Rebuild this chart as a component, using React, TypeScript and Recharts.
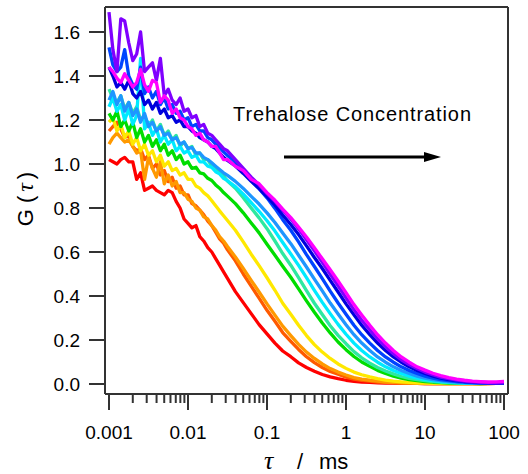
import React from 'react';
import { LineChart, Line, XAxis, YAxis, ReferenceLine } from 'recharts';

// lag time (ms)
const TAU = [
  0.001, 0.00112, 0.00126, 0.00141, 0.00158, 0.00178, 0.002, 0.00224, 0.00251, 0.00282,
  0.00316, 0.00355, 0.00398, 0.00447, 0.00501, 0.00562, 0.00631, 0.00708, 0.00794, 0.00891,
  0.01, 0.0112, 0.0126, 0.0141, 0.0158, 0.0178, 0.02, 0.0224, 0.0251, 0.0282,
  0.0316, 0.0398, 0.0501, 0.0631, 0.0794, 0.1, 0.126, 0.158, 0.2, 0.251,
  0.316, 0.398, 0.501, 0.631, 0.794, 1, 1.26, 1.58, 2, 2.51,
  3.16, 3.98, 5.01, 6.31, 7.94, 10, 12.6, 15.8, 20, 25.1,
  31.6, 39.8, 50.1, 63.1, 79.4, 100,
];

// G(tau), lowest trehalose concentration first
const RED = [
  1.02, 1.01, 1.00, 1.02, 1.03, 1.01, 1.01, 0.93, 0.96, 0.88,
  0.89, 0.90, 0.88, 0.87, 0.86, 0.88, 0.87, 0.83, 0.80, 0.75,
  0.73, 0.71, 0.72, 0.67, 0.65, 0.62, 0.60, 0.57, 0.54, 0.51,
  0.48, 0.42, 0.37, 0.32, 0.27, 0.228, 0.186, 0.15, 0.124, 0.096,
  0.075, 0.058, 0.043, 0.032, 0.024, 0.017, 0.012, 0.009, 0.007, 0.005,
  0.004, 0.004, 0.003, 0.003, 0.003, 0.002, 0.003, 0.002, 0.002, 0.003,
  0.002, 0.002, 0.003, 0.002, 0.003, 0.004,
];
const ORANGE_RED = [
  1.15, 1.17, 1.19, 1.16, 1.12, 1.13, 1.08, 1.06, 1.07, 1.02,
  1.04, 0.98, 1.00, 0.95, 0.97, 0.92, 0.94, 0.89, 0.90, 0.86,
  0.86, 0.82, 0.81, 0.79, 0.77, 0.74, 0.72, 0.69, 0.66, 0.64,
  0.61, 0.56, 0.50, 0.445, 0.39, 0.335, 0.285, 0.234, 0.194, 0.157,
  0.124, 0.097, 0.075, 0.057, 0.044, 0.031, 0.022, 0.017, 0.013, 0.009,
  0.007, 0.005, 0.004, 0.003, 0.003, 0.002, 0.002, 0.003, 0.002, 0.002,
  0.003, 0.002, 0.002, 0.003, 0.003, 0.004,
];
const ORANGE = [
  1.09, 1.12, 1.14, 1.12, 1.10, 1.11, 1.08, 1.05, 1.06, 0.93,
  1.03, 0.98, 0.94, 1.01, 0.91, 0.95, 0.90, 0.92, 0.87, 0.87,
  0.84, 0.83, 0.80, 0.79, 0.76, 0.75, 0.72, 0.70, 0.67, 0.65,
  0.625, 0.577, 0.525, 0.471, 0.418, 0.364, 0.313, 0.263, 0.22, 0.18,
  0.145, 0.116, 0.091, 0.07, 0.054, 0.041, 0.029, 0.022, 0.017, 0.013,
  0.009, 0.007, 0.005, 0.004, 0.003, 0.003, 0.002, 0.003, 0.002, 0.002,
  0.003, 0.002, 0.003, 0.002, 0.003, 0.004,
];
const YELLOW = [
  1.19, 1.21, 1.15, 1.18, 1.12, 1.15, 1.09, 1.12, 1.06, 1.09,
  1.04, 1.06, 1.01, 1.04, 0.99, 1.01, 0.97, 0.98, 0.95, 0.96,
  0.93, 0.93, 0.90, 0.89, 0.87, 0.855, 0.833, 0.81, 0.787, 0.765,
  0.743, 0.699, 0.646, 0.59, 0.538, 0.483, 0.426, 0.367, 0.317, 0.267,
  0.22, 0.179, 0.145, 0.116, 0.091, 0.071, 0.054, 0.042, 0.032, 0.024,
  0.018, 0.0135, 0.01, 0.007, 0.005, 0.004, 0.003, 0.003, 0.002, 0.003,
  0.002, 0.003, 0.002, 0.003, 0.003, 0.004,
];
const GREEN = [
  1.23, 1.20, 1.24, 1.17, 1.20, 1.15, 1.19, 1.12, 1.16, 1.10,
  1.13, 1.08, 1.11, 1.06, 1.09, 1.04, 1.06, 1.02, 1.04, 1.00,
  1.01, 0.98, 0.985, 0.96, 0.955, 0.935, 0.925, 0.905, 0.89, 0.87,
  0.854, 0.82, 0.778, 0.732, 0.687, 0.635, 0.585, 0.535, 0.485, 0.432,
  0.378, 0.326, 0.277, 0.232, 0.191, 0.156, 0.125, 0.1, 0.08, 0.062,
  0.048, 0.036, 0.027, 0.02, 0.015, 0.011, 0.008, 0.006, 0.004, 0.003,
  0.003, 0.003, 0.002, 0.003, 0.003, 0.004,
];
const MINT = [
  1.34, 1.30, 1.28, 1.31, 1.25, 1.28, 1.23, 1.26, 1.20, 1.22,
  1.17, 1.20, 1.15, 1.18, 1.13, 1.15, 1.11, 1.13, 1.08, 1.10,
  1.07, 1.08, 1.04, 1.05, 1.02, 1.02, 0.99, 0.985, 0.96, 0.945,
  0.923, 0.89, 0.847, 0.80, 0.755, 0.706, 0.65, 0.593, 0.54, 0.483,
  0.424, 0.367, 0.316, 0.265, 0.221, 0.183, 0.147, 0.119, 0.095, 0.075,
  0.059, 0.046, 0.034, 0.026, 0.02, 0.015, 0.011, 0.008, 0.006, 0.004,
  0.003, 0.003, 0.003, 0.003, 0.003, 0.004,
];
const CYAN = [
  1.26, 1.30, 1.24, 1.27, 1.20, 1.25, 1.18, 1.22, 1.48, 1.16,
  1.19, 1.13, 1.16, 1.10, 1.13, 1.09, 1.11, 1.06, 1.08, 1.05,
  1.06, 1.03, 1.04, 1.01, 1.01, 0.99, 0.985, 0.965, 0.955, 0.935,
  0.924, 0.897, 0.863, 0.824, 0.785, 0.742, 0.695, 0.643, 0.591, 0.539,
  0.483, 0.426, 0.371, 0.32, 0.271, 0.226, 0.186, 0.152, 0.123, 0.099,
  0.078, 0.061, 0.048, 0.036, 0.027, 0.02, 0.015, 0.011, 0.008, 0.006,
  0.004, 0.003, 0.003, 0.003, 0.003, 0.004,
];
const SKY = [
  1.29, 1.33, 1.27, 1.31, 1.24, 1.28, 1.22, 1.25, 1.19, 1.23,
  1.17, 1.19, 1.15, 1.17, 1.13, 1.14, 1.11, 1.12, 1.09, 1.10,
  1.07, 1.075, 1.05, 1.05, 1.03, 1.02, 1.005, 0.99, 0.975, 0.96,
  0.948, 0.921, 0.889, 0.853, 0.818, 0.778, 0.734, 0.686, 0.638, 0.585,
  0.532, 0.477, 0.423, 0.368, 0.318, 0.269, 0.224, 0.186, 0.152, 0.123,
  0.099, 0.078, 0.061, 0.048, 0.036, 0.027, 0.02, 0.015, 0.011, 0.008,
  0.006, 0.004, 0.003, 0.003, 0.003, 0.004,
];
const BLUE = [
  1.53, 1.45, 1.42, 1.44, 1.52, 1.40, 1.36, 1.34, 1.44, 1.32,
  1.35, 1.30, 1.33, 1.27, 1.30, 1.25, 1.27, 1.23, 1.24, 1.20,
  1.21, 1.17, 1.18, 1.15, 1.15, 1.12, 1.11, 1.09, 1.075, 1.055,
  1.039, 1.009, 0.969, 0.926, 0.888, 0.846, 0.798, 0.747, 0.699, 0.646,
  0.588, 0.534, 0.479, 0.422, 0.368, 0.317, 0.267, 0.224, 0.186, 0.152,
  0.123, 0.099, 0.078, 0.061, 0.048, 0.036, 0.027, 0.02, 0.015, 0.011,
  0.008, 0.006, 0.004, 0.004, 0.003, 0.004,
];
const DARK_BLUE = [
  1.44, 1.40, 1.35, 1.37, 1.34, 1.38, 1.32, 1.30, 1.33, 1.27,
  1.29, 1.25, 1.28, 1.23, 1.25, 1.21, 1.22, 1.19, 1.20, 1.17,
  1.17, 1.15, 1.14, 1.12, 1.11, 1.10, 1.08, 1.07, 1.05, 1.03,
  1.016, 0.991, 0.957, 0.921, 0.888, 0.852, 0.813, 0.768, 0.725, 0.679,
  0.628, 0.575, 0.525, 0.471, 0.418, 0.364, 0.314, 0.267, 0.224, 0.186,
  0.152, 0.123, 0.099, 0.078, 0.061, 0.048, 0.036, 0.027, 0.02, 0.015,
  0.011, 0.008, 0.006, 0.005, 0.004, 0.005,
];
const PURPLE = [
  1.69, 1.52, 1.42, 1.66, 1.65, 1.55, 1.47, 1.50, 1.60, 1.42,
  1.44, 1.46, 1.38, 1.48, 1.31, 1.34, 1.29, 1.27, 1.30, 1.24,
  1.25, 1.21, 1.22, 1.17, 1.18, 1.14, 1.13, 1.11, 1.09, 1.07,
  1.06, 1.02, 0.98, 0.94, 0.905, 0.865, 0.83, 0.79, 0.75, 0.705,
  0.655, 0.605, 0.553, 0.499, 0.446, 0.391, 0.337, 0.29, 0.246, 0.205,
  0.169, 0.138, 0.11, 0.088, 0.07, 0.054, 0.042, 0.031, 0.024, 0.018,
  0.013, 0.01, 0.008, 0.006, 0.005, 0.006,
];
const MAGENTA = [
  1.44, 1.42, 1.39, 1.37, 1.41, 1.38, 1.35, 1.37, 1.43, 1.36,
  1.33, 1.38, 1.37, 1.28, 1.31, 1.29, 1.23, 1.25, 1.21, 1.20,
  1.17, 1.16, 1.13, 1.14, 1.11, 1.10, 1.08, 1.08, 1.05, 1.02,
  1.02, 0.99, 0.97, 0.93, 0.91, 0.87, 0.835, 0.795, 0.756, 0.713,
  0.668, 0.619, 0.569, 0.519, 0.468, 0.415, 0.361, 0.314, 0.267, 0.224,
  0.186, 0.152, 0.123, 0.099, 0.078, 0.063, 0.049, 0.038, 0.029, 0.022,
  0.017, 0.013, 0.011, 0.009, 0.01, 0.012,
];

const SERIES = [
  { key: 'red', values: RED, color: '#ff0000' },
  { key: 'orangeRed', values: ORANGE_RED, color: '#ff5a00' },
  { key: 'orange', values: ORANGE, color: '#ff9900' },
  { key: 'yellow', values: YELLOW, color: '#ffe800' },
  { key: 'green', values: GREEN, color: '#00dd00' },
  { key: 'mint', values: MINT, color: '#2ee8a0' },
  { key: 'cyan', values: CYAN, color: '#00eaff' },
  { key: 'sky', values: SKY, color: '#1e96ff' },
  { key: 'blue', values: BLUE, color: '#0044ff' },
  { key: 'darkBlue', values: DARK_BLUE, color: '#0000dd' },
  { key: 'purple', values: PURPLE, color: '#7f00ff' },
  { key: 'magenta', values: MAGENTA, color: '#ff00ff' },
];

const MAJOR_TICKS = [0.001, 0.01, 0.1, 1, 10, 100];
const MINOR_TICKS = [
  0.002, 0.003, 0.004, 0.005, 0.006, 0.007, 0.008, 0.009,
  0.02, 0.03, 0.04, 0.05, 0.06, 0.07, 0.08, 0.09,
  0.2, 0.3, 0.4, 0.5, 0.6, 0.7, 0.8, 0.9,
  2, 3, 4, 5, 6, 7, 8, 9,
  20, 30, 40, 50, 60, 70, 80, 90,
];
const Y_TICKS = [0, 0.2, 0.4, 0.6, 0.8, 1.0, 1.2, 1.4, 1.6];

const X_DOMAIN = [0.00089, 112.3];
const Y_DOMAIN = [-0.0455, 1.7136];

const AXIS_COLOR = '#333';
const FONT = '"Liberation Sans", Arial, sans-serif';
const SERIF = '"Liberation Serif", "DejaVu Serif", serif';

const chartData = TAU.map((tau, i) => {
  const row: Record<string, number> = { tau };
  SERIES.forEach((s) => {
    row[s.key] = s.values[i];
  });
  return row;
});

const xTicks = [...MAJOR_TICKS, ...MINOR_TICKS].sort((a, b) => a - b);

const XTick = ({ x, y, payload }: { x?: number; y?: number; payload?: { value: number } }) => {
  if (x == null || y == null || !payload) return null;
  const major = MAJOR_TICKS.includes(payload.value);
  return (
    <g>
      <line x1={x} x2={x} y1={y} y2={y + (major ? 16 : 9)} stroke={AXIS_COLOR} strokeWidth={2} />
      {major && (
        <text x={x} y={y + 45} textAnchor="middle" fontSize={19} fontFamily={FONT} fill="#000">
          {String(payload.value)}
        </text>
      )}
    </g>
  );
};

export default function App() {
  return (
    <div style={{ position: 'absolute', left: 0, top: 0, width: 528, height: 474, background: '#fff' }}>
      <LineChart
        width={528}
        height={474}
        data={chartData}
        margin={{ top: 7, right: 20, bottom: 0, left: 0 }}
      >
        <XAxis
          dataKey="tau"
          type="number"
          scale="log"
          domain={X_DOMAIN}
          allowDataOverflow
          ticks={xTicks}
          interval={0}
          height={80}
          tickSize={0}
          tickMargin={0}
          tickLine={false}
          tick={<XTick />}
          axisLine={{ stroke: AXIS_COLOR, strokeWidth: 2 }}
        />
        <YAxis
          type="number"
          domain={Y_DOMAIN}
          allowDataOverflow
          ticks={Y_TICKS}
          interval={0}
          width={105}
          tickSize={16}
          tickMargin={9}
          tickFormatter={(v: number) => v.toFixed(1)}
          tick={{ fontSize: 19, fontFamily: FONT, fill: '#000' }}
          tickLine={{ stroke: AXIS_COLOR, strokeWidth: 2 }}
          axisLine={{ stroke: AXIS_COLOR, strokeWidth: 2 }}
        />
        <ReferenceLine y={Y_DOMAIN[1]} stroke={AXIS_COLOR} strokeWidth={2} />
        <ReferenceLine x={X_DOMAIN[1]} stroke={AXIS_COLOR} strokeWidth={2} />
        {SERIES.map((s) => (
          <Line
            key={s.key}
            dataKey={s.key}
            type="linear"
            stroke={s.color}
            strokeWidth={3.3}
            strokeLinejoin="round"
            dot={false}
            isAnimationActive={false}
          />
        ))}
      </LineChart>

      {/* titles and annotation */}
      <svg
        width={528}
        height={474}
        style={{ position: 'absolute', left: 0, top: 0, pointerEvents: 'none' }}
      >
        <text x={233} y={121} fontSize={20} fontFamily={FONT} fill="#000" textLength={238} lengthAdjust="spacing">
          Trehalose Concentration
        </text>
        <line x1={284} y1={157} x2={428} y2={157} stroke="#000" strokeWidth={3} />
        <polygon points="424,152 441,157 424,162" fill="#000" />

        <text x={264} y={469} fontSize={26} fontFamily={SERIF} fontStyle="italic" fill="#000">
          τ
        </text>
        <text x={300} y={469} fontSize={22} fontFamily={FONT} fill="#000" textAnchor="middle">
          /
        </text>
        <text x={319} y={469} fontSize={22} fontFamily={FONT} fill="#000">
          ms
        </text>

        <g transform="translate(33, 199) rotate(-90)">
          <text x={0} y={0} textAnchor="middle" fontSize={22} fontFamily={FONT} fill="#000">
            G
            <tspan dx={6}>(</tspan>
            <tspan dx={4} fontFamily={SERIF} fontStyle="italic" fontSize={24}>τ</tspan>
            <tspan dx={4}>)</tspan>
          </text>
        </g>
      </svg>
    </div>
  );
}
